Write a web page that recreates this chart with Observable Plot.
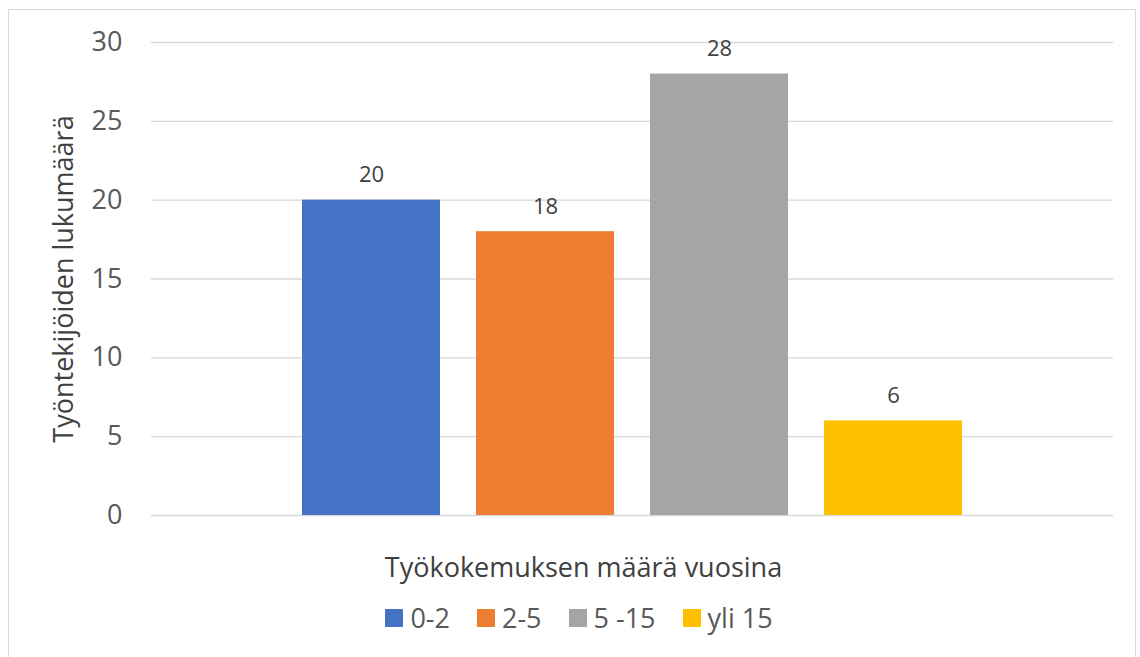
<!DOCTYPE html>
<html><head><meta charset="utf-8">
<script src="https://cdn.jsdelivr.net/npm/d3@7"></script>
<script src="https://cdn.jsdelivr.net/npm/@observablehq/plot@0.6"></script>
<style>
html,body{margin:0;padding:0;background:#fff;}
#wrap{position:relative;width:1140px;height:657px;overflow:hidden;font-family:"Open Sans",sans-serif;}
#border{position:absolute;left:8px;top:9px;width:1128px;height:660px;border:1.5px solid #d9d9d9;box-sizing:border-box;}
#chart{position:absolute;left:0;top:0;}
#legend{position:absolute;left:0;top:599px;width:1140px;display:flex;justify-content:center;gap:27px;font-size:27px;color:#595959;padding-left:18px;box-sizing:border-box;}
#legend .it{display:flex;align-items:center;gap:7px;}
#legend .sw{width:18px;height:18px;display:inline-block;}
</style></head>
<body><div id="wrap"><div id="border"></div><div id="chart"></div><div id="legend"></div></div>
<script>
const categories = ["0-2", "2-5", "5 -15", "yli 15"];
const values = [20, 18, 28, 6];
const colors = ["#4472C4", "#ED7D31", "#A5A5A5", "#FFC000"];
const yTicks = [0, 5, 10, 15, 20, 25, 30];
const xTitle = "Työkokemuksen määrä vuosina";
const yTitle = "Työntekijöiden lukumäärä";

const data = categories.map((c, i) => ({cat: c, value: values[i]}));

const chart = Plot.plot({
  width: 1140,
  height: 595,
  marginLeft: 151,
  marginRight: 27,
  marginTop: 42,
  marginBottom: 80,
  style: {fontFamily: "Open Sans, sans-serif", background: "transparent"},
  x: {domain: categories, paddingInner: 0.208, paddingOuter: 0.866, axis: null},
  y: {domain: [0, 30], ticks: yTicks},
  color: {domain: categories, range: colors},
  marks: [
    Plot.gridY(yTicks, {stroke: "#d9d9d9", strokeOpacity: 1, strokeWidth: 1.3}),
    Plot.axisY(yTicks, {tickSize: 0, tickPadding: 29, fontSize: 27, fill: "#595959", label: null}),
    Plot.barY(data, {x: "cat", y: "value", fill: "cat"}),
    Plot.text(data, {x: "cat", y: "value", text: d => String(d.value), dy: -25, fontSize: 22, fill: "#404040"}),
    Plot.text([xTitle], {frameAnchor: "bottom", dx: -49, dy: 61, fontSize: 27, fill: "#404040"}),
    Plot.text([yTitle], {frameAnchor: "left", textAnchor: "middle", dx: -87, rotate: -90, fontSize: 27, fill: "#404040"})
  ]
});
document.getElementById("chart").appendChild(chart);

const legend = document.getElementById("legend");
categories.forEach((c, i) => {
  const it = document.createElement("div"); it.className = "it";
  const sw = document.createElement("span"); sw.className = "sw"; sw.style.background = colors[i];
  const t = document.createElement("span"); t.textContent = c;
  it.appendChild(sw); it.appendChild(t); legend.appendChild(it);
});
</script></body></html>
